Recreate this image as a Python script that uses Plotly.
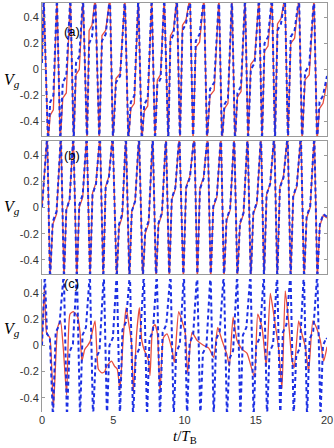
import plotly.graph_objects as go
from plotly.subplots import make_subplots

# ---- data (time in units of T_B, Vg) ----
# panel (a)
a_start_t = [0, 0.12]
a_start_v = [0.05, 0.56]
a_troughs = [0.42, 1.28, 2.22, 3.16, 4.02, 4.98, 6.06, 7.0, 7.93, 8.86, 9.68,
             10.6, 11.58, 12.63, 13.54, 14.46, 15.44, 16.35, 17.26, 18.25, 19.3]
a_peaks = [1.05, 1.99, 2.88, 3.74, 4.77, 5.82, 6.76, 7.70, 8.58, 9.47,
           10.39, 11.37, 12.42, 13.33, 14.25, 15.23, 16.14, 17.05, 18.04, 19.09]
a_knee_red = [-0.35, -0.22, -0.04, 0.3, 0.26, -0.07, -0.3, -0.32, -0.08, 0.26, 0.34,
              0.17, -0.2, -0.3, -0.21, 0.04, 0.14, 0.35, 0.2, -0.08, -0.3]
a_knee_blue = [-0.25, -0.1, 0.05, 0.2, 0.22, -0.1, -0.25, -0.27, -0.12, 0.22, 0.3,
               0.22, -0.15, -0.27, -0.18, 0.0, 0.2, 0.3, 0.25, -0.02, -0.25]
a_end_red = -0.1
a_end_blue = -0.05

# panel (b)
b_start_t = [0, 0.37]
b_start_v = [0.0, 0.56]
b_troughs = [0.56, 1.54, 2.44, 3.37, 4.3, 5.24, 6.13, 7.07, 8.0, 8.93, 9.92,
             10.9, 11.84, 12.77, 13.71, 14.65, 15.58, 16.51, 17.45, 18.39, 19.32]
b_peaks = [1.33, 2.2, 3.14, 4.07, 4.96, 5.89, 6.81, 7.77, 8.7, 9.64,
           10.69, 11.63, 12.56, 13.49, 14.43, 15.37, 16.3, 17.24, 18.17, 19.11]
b_knee_red = [-0.13, -0.02, 0.0, 0.11, 0.16, -0.15, -0.03, -0.2, -0.13, 0.06, 0.16,
              0.15, 0.0, -0.1, -0.13, -0.05, 0.1, 0.16, 0.08, -0.08, -0.14]
b_knee_blue = [-0.11, -0.02, 0.02, 0.1, 0.15, -0.13, -0.03, -0.18, -0.12, 0.07, 0.15,
               0.14, 0.01, -0.09, -0.12, -0.04, 0.1, 0.15, 0.09, -0.07, -0.13]
b_end_red = -0.08
b_end_blue = -0.07

# panel (c) - blue dashed keeps the full sawtooth
c_start_t = [0, 0.2, 0.35, 0.55]
c_start_v = [0.0, 0.56, 0.09, 0.06]
c_troughs = [0.77, 1.75, 2.67, 3.58, 4.56, 5.47, 6.39, 7.37, 8.28, 9.24, 10.18,
             11.11, 12.05, 12.98, 13.92, 14.85, 15.79, 16.72, 17.66, 18.6, 19.54]
c_peaks = [1.53, 2.45, 3.36, 4.34, 5.25, 6.17, 7.15, 8.06, 9.02, 9.96,
           10.89, 11.83, 12.76, 13.7, 14.63, 15.57, 16.5, 17.44, 18.38, 19.32]
c_knee_blue = [0.1, -0.05, 0.08, -0.1, 0.0, 0.12, -0.08, 0.05, 0.1, -0.05, 0.02,
               -0.06, 0.05, -0.1, 0.08, 0.0, -0.05, 0.1, -0.08, 0.05, 0.0]
c_end_blue = 0.05

# panel (c) - red solid, damped response
c_red_t = [0, 0.17, 0.33, 0.55, 0.8, 1.1, 1.3, 1.5, 1.73, 1.96, 2.2, 2.5, 2.67, 2.8, 3.0,
           3.2, 3.37, 3.72, 3.95, 4.2, 4.4, 4.53, 4.88, 5.1, 5.28, 5.47, 5.7, 5.9, 6.06, 6.29,
           6.41, 6.64, 6.83, 7.0, 7.16, 7.46, 7.58, 7.77, 7.93, 8.1, 8.28, 8.52, 8.77, 9.12, 9.29,
           9.59, 9.82, 10.06, 10.22, 10.53, 10.88, 11.35, 11.7, 12.05, 12.33, 12.63, 12.98, 13.15,
           13.41, 13.68, 14.04, 14.39, 14.9, 15.14, 15.44, 15.74, 16.02, 16.26, 16.61, 16.84,
           17.07, 17.3, 17.54, 17.7, 18.01, 18.24, 18.48, 18.71, 19.01, 19.25, 19.53, 19.77, 20.0]
c_red_v = [0.0, 0.45, 0.09, 0.06, -0.48, 0.14, 0.19, -0.03, -0.38, 0.24, 0.26, 0.22, 0.1, -0.12, -0.03,
           0.0, 0.03, 0.19, -0.18, -0.21, -0.2, -0.16, -0.12, -0.16, -0.18, -0.34, 0.06, 0.29, 0.19, 0.01,
           -0.36, 0.09, 0.29, 0.04, -0.03, -0.11, -0.23, 0.14, 0.16, 0.09, -0.36, 0.06, 0.09, -0.03, -0.13,
           0.26, 0.19, 0.09, -0.21, 0.1, 0.04, 0.0, -0.02, -0.09, 0.14, 0.04, -0.07, -0.16,
           0.22, 0.04, -0.03, -0.06, -0.24, 0.24, 0.14, -0.16, 0.4, 0.24, -0.03, -0.33,
           0.42, 0.19, -0.11, -0.17, 0.19, 0.09, -0.01, -0.2, 0.19, 0.14, 0.04, -0.12, -0.01]

yticks = [-0.4, -0.2, 0, 0.2, 0.4]
ytick_text = ["-0.4", "-0.2", "0", "0.2", "0.4"]
xticks = [0, 5, 10, 15, 20]

TOP = 0.56  # the wrapped curve leaves the window at +-0.5


def sawtooth(st, sv, troughs, knees, peaks, end_v, rise):
    t, v = list(st), list(sv)
    for i, tb in enumerate(troughs):
        last = i >= len(peaks)
        L = 0.7 if last else peaks[i] - tb
        for tt, vv in [(tb, -TOP), (tb + 0.25 * L, knees[i]), (tb + 0.6 * L, knees[i] + rise)]:
            if tt < 20:
                t.append(tt)
                v.append(vv)
        if last:
            t.append(20)
            v.append(end_v)
        else:
            t.append(peaks[i])
            v.append(TOP)
    return t, v


RED = "rgb(232,78,62)"
BLUE = "rgb(28,48,228)"

fig = make_subplots(rows=3, cols=1, shared_xaxes=True, vertical_spacing=0.01)

panels = [
    (1, sawtooth(a_start_t, a_start_v, a_troughs, a_knee_red, a_peaks, a_end_red, 0.04),
     sawtooth(a_start_t, a_start_v, a_troughs, a_knee_blue, a_peaks, a_end_blue, 0.05)),
    (2, sawtooth(b_start_t, b_start_v, b_troughs, b_knee_red, b_peaks, b_end_red, 0.08),
     sawtooth(b_start_t, b_start_v, b_troughs, b_knee_blue, b_peaks, b_end_blue, 0.08)),
    (3, (c_red_t, c_red_v),
     sawtooth(c_start_t, c_start_v, c_troughs, c_knee_blue, c_peaks, c_end_blue, 0.06)),
]

for row, (rt, rv), (bt, bv) in panels:
    fig.add_trace(go.Scatter(x=rt, y=rv, mode="lines",
                             line=dict(color=RED, width=1.3,
                                       shape="spline" if row == 3 else "linear",
                                       smoothing=0.5),
                             showlegend=False), row=row, col=1)
    fig.add_trace(go.Scatter(x=bt, y=bv, mode="lines",
                             line=dict(color=BLUE, width=2, dash="4px,3px"),
                             showlegend=False), row=row, col=1)

axis_font = dict(family="Liberation Sans, Arial, sans-serif", size=11, color="#333")
for row in (1, 2, 3):
    boxed = row < 3
    fig.update_xaxes(range=[0, 20], showgrid=False, zeroline=False, automargin=False,
                     showline=boxed, mirror=boxed, linecolor="#9a9a9a", linewidth=1,
                     tickvals=xticks, ticks="", showticklabels=(row == 3),
                     tickfont=axis_font, row=row, col=1)
    fig.update_yaxes(range=[-0.51, 0.51], showgrid=False, zeroline=False, automargin=False,
                     showline=True, mirror="ticks" if boxed else False,
                     linecolor="#9a9a9a", linewidth=1,
                     ticks="inside", ticklen=3, tickcolor="#9a9a9a",
                     tickvals=yticks, ticktext=ytick_text, tickfont=axis_font,
                     row=row, col=1)

fig.update_layout(
    template="none",
    width=334, height=448,
    margin=dict(l=42, r=7, t=3, b=36),
    paper_bgcolor="white", plot_bgcolor="white",
    yaxis=dict(domain=[0.675, 1.0]),
    yaxis2=dict(domain=[0.337, 0.663]),
    yaxis3=dict(domain=[0.0, 0.325]),
)

label_font = dict(family="Liberation Sans, Arial, sans-serif", size=13, color="black")
vg_font = dict(family="Liberation Serif, Times New Roman, serif", size=16, color="black")
for y_lab, y_vg, txt in [(0.954, 0.838, "(a)"), (0.626, 0.501, "(b)"), (0.291, 0.173, "(c)")]:
    fig.add_annotation(text=txt, xref="paper", yref="paper", x=0.07, y=y_lab,
                       showarrow=False, font=label_font)
    fig.add_annotation(text="<i>V</i><sub><i>g</i></sub>", xref="paper", yref="paper",
                       x=-0.14, xanchor="left", y=y_vg, showarrow=False, font=vg_font)

fig.add_annotation(text="<i>t</i>/<i>T</i><sub>B</sub>", xref="paper", yref="paper",
                   x=0.5, y=-0.06, yanchor="middle", showarrow=False,
                   font=dict(family="Liberation Serif, Times New Roman, serif", size=15, color="black"))

# the page body carries a default 8px margin; drop it so the figure fills the window
fig.write_html("out.html", config={"displayModeBar": False},
               post_script="document.body.style.margin='0';")
